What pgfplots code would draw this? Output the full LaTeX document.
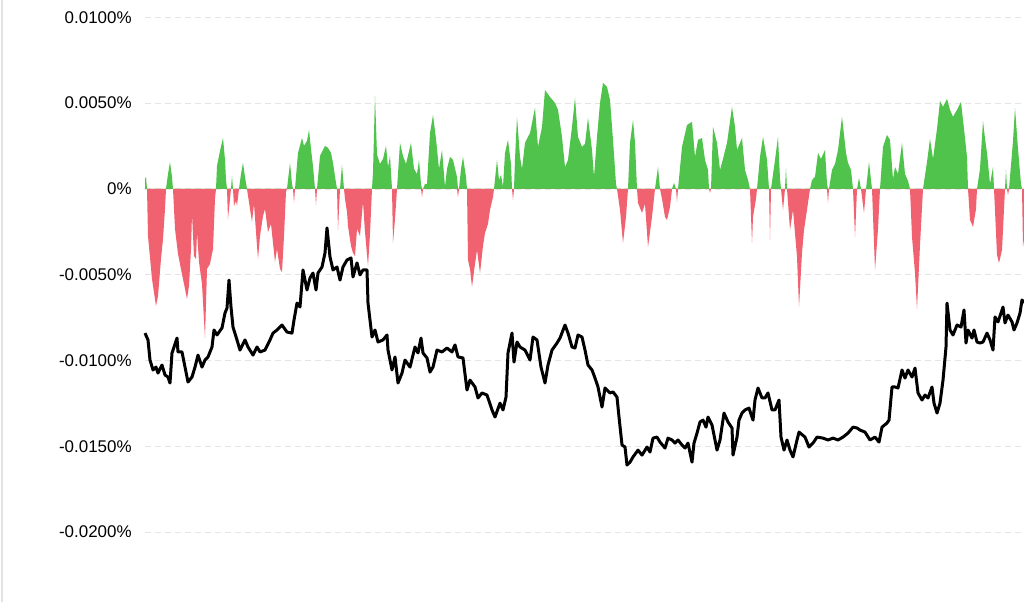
\documentclass[border=0pt]{standalone}
\usepackage{pgfplots}
\pgfplotsset{compat=1.18}
\usepackage{pgfplotstable}
\usepackage{fontspec}
\setmainfont{Liberation Sans}
\definecolor{upgreen}{RGB}{80,195,76}
\definecolor{downred}{RGB}{240,98,112}
\definecolor{gridc}{RGB}{228,228,228}

% funding rate, units of 0.0001% : x, positive part, negative part
\pgfplotstableread{
x g r
145 5.8 0
146 7.0 0
147 0 0
148 0 -27.4
152 0 -52.5
156 0 -68.2
158 0 -62.4
161 0 -40.8
163 0 -29.2
165 0 -11.7
166 0 0
168 8.7 0
170 15.7 0
172 7.0 0
173 0 0
175 0 -23.3
178 0 -37.9
182 0 -49.6
185 0 -58.3
187 0 -64.1
189 0 -56.6
191 0 -35.0
192 0 -14.6
194 0 -39.1
196 0 -40.8
197 0 -25.1
199 0 -42.6
202 0 -55.4
205 0 -86.9
207 0 -46.6
210 0 -43.7
213 0 -35.0
215 0 -5.8
216 0 0
217 13.4 0
220 22.2 0
223 29.7 0
225 16.9 0
226 5.2 0
227 0 0
228 0 -17.5
230 0 -5.8
231 0 0
232 7.6 0
233 0 0
234 0 -9.9
236 0 -7.0
237 0 -9.9
239 0 0
241 8.7 0
243 15.2 0
245 7.0 0
247 0 0
250 0 -11.7
252 0 -19.2
254 0 -8.7
257 0 -33.2
258 0 -40.8
260 0 -27.4
263 0 -15.7
265 0 -11.7
268 0 -25.1
271 0 -20.4
275 0 -42.6
277 0 -35.0
280 0 -46.6
282 0 -48.4
284 0 -27.4
286 0 -1.7
287 0 0
290 15.2 0
292 2.9 0
293 0 0
294 0 -8.2
295 0 0
298 21.0 0
302 29.7 0
304 25.1 0
307 28.0 0
309 34.4 0
311 23.3 0
313 13.4 0
315 0 0
316 0 -9.3
317 0 0
320 19.2 0
323 22.7 0
325 25.1 0
328 23.9 0
331 21.0 0
333 15.2 0
336 3.5 0
337 0 0
338 0 -23.9
340 0 0
342 14.0 0
344 0 0
345 0 -5.8
347 0 -13.4
348 0 -21.6
351 0 -33.2
353 0 -37.3
355 0 -39.1
357 0 -23.3
360 0 -27.4
363 0 -7.6
365 0 -25.1
368 0 -44.9
370 0 -26.2
372 0 0
373 10.0 0
375 54.2 0
377 20.0 0
380 14.6 0
383 17.5 0
386 25.1 0
388 12.8 0
390 19.2 0
392 0 0
393 0 -31.5
395 0 -17.5
397 0 0
400 26.8 0
403 19.2 0
406 14.6 0
411 26.8 0
414 11.7 0
417 8.7 0
419 16.9 0
421 2.9 0
422 0 -4.7
423 0 0
425 2.9 0
427 2.9 0
430 32.6 0
433 43.1 0
436 29.2 0
439 11.7 0
442 22.7 0
445 1.2 0
447 11.7 0
450 18.7 0
453 16.9 0
457 7.0 0
458 0 -4.7
459 0 0
461 11.7 0
463 18.7 0
466 7.0 0
467 0 0
468 0 -41.4
470 0 -46.6
472 0 -57.1
475 0 -43.7
477 0 -35.6
480 0 -49.0
483 0 -33.2
485 0 -25.7
488 0 -20.4
490 0 -12.2
493 0 -4.7
494 0 0
497 16.9 0
499 5.2 0
501 8.2 0
503 1.2 0
505 21.0 0
508 28.6 0
511 14.6 0
512 0 0
513 0 -6.4
514 0 0
515 17.5 0
517 42.0 0
520 18.7 0
522 11.7 0
525 26.8 0
530 32.6 0
535 47.2 0
538 24.5 0
542 36.1 0
545 57.7 0
547 56.0 0
550 53.6 0
555 50.1 0
558 46.1 0
562 30.3 0
565 12.8 0
568 16.9 0
572 36.1 0
575 53.1 0
578 30.3 0
582 24.5 0
585 26.2 0
588 41.4 0
592 22.7 0
594 7.0 0
597 30.3 0
600 50.1 0
603 61.8 0
605 60.6 0
607 59.5 0
610 51.9 0
613 28.6 0
616 2.9 0
617 0 0
620 0 -12.2
623 0 -31.5
626 0 -16.3
628 0 0
630 26.8 0
633 40.2 0
635 26.8 0
637 0 0
638 0 -8.2
642 0 -14.0
645 0 -8.7
648 0 -33.8
652 0 -16.3
655 0 0
658 12.8 0
660 0 0
662 0 -5.8
665 0 -16.3
667 0 -18.1
670 0 -10.5
672 0 0
674 3.5 0
676 0 0
677 0 -7.6
678 0 0
682 24.5 0
687 37.3 0
692 39.1 0
695 18.7 0
698 28.6 0
702 29.7 0
705 16.9 0
708 11.1 0
709 0 0
710 0 -2.3
711 0 0
713 36.1 0
717 26.8 0
720 11.1 0
723 17.5 0
727 26.8 0
732 47.8 0
735 36.1 0
737 22.7 0
742 29.7 0
745 11.1 0
748 5.2 0
750 0 0
752 0 -31.5
753 0 -16.3
756 0 -5.8
757 0 0
760 18.7 0
763 30.3 0
767 16.9 0
769 0 0
770 0 -29.7
771 0 0
775 16.9 0
778 30.3 0
780 5.8 0
781 0 0
783 0 -12.2
785 0 0
786 12.2 0
787 0 0
790 0 -23.9
793 0 -12.2
797 0 -39.6
799 0 -68.8
802 0 -37.3
804 0 -23.9
807 0 -12.2
810 0 0
812 5.2 0
815 7.0 0
818 21.0 0
821 17.5 0
825 22.7 0
827 2.9 0
828 0 -8.2
829 0 0
832 11.1 0
835 14.6 0
838 22.7 0
842 42.0 0
846 21.0 0
848 15.2 0
851 11.1 0
853 0 0
855 0 -28.0
857 0 0
859 6.4 0
861 0 0
864 0 -14.0
866 0 0
869 15.7 0
872 0 0
875 0 -47.2
878 0 -23.3
880 0 0
883 24.5 0
887 31.5 0
890 28.6 0
893 5.8 0
895 12.8 0
898 8.7 0
902 26.8 0
905 8.7 0
908 4.7 0
910 0 0
912 0 -28.0
915 0 -49.0
917 0 -70.0
920 0 -32.6
923 0 0
927 15.7 0
930 29.2 0
933 17.5 0
937 35.0 0
940 51.3 0
943 47.8 0
947 52.5 0
950 46.1 0
953 42.0 0
957 46.1 0
961 50.7 0
964 35.0 0
967 18.7 0
968 0 0
970 0 -18.1
973 0 -22.2
976 0 -11.7
977 0 0
980 11.7 0
983 39.6 0
985 29.2 0
987 21.0 0
990 2.9 0
993 12.8 0
994 0 0
997 0 -38.5
999 0 -43.1
1002 0 -35.6
1004 0 -11.7
1005 0 0
1006 11.1 0
1007 0 0
1008 0 -3.5
1009 0 0
1013 28.0 0
1015 47.2 0
1018 23.3 0
1021 2.9 0
1022 0 0
1023 0 -33.8
1024 0 -29.2
}\rates

% black line, units of 0.0001%
\pgfplotstableread{
x v
145 -84.0
148 -88.0
150 -99.7
153 -105.5
156 -103.8
158 -107.3
162 -102.6
165 -108.4
168 -109.6
170 -113.1
172 -95.6
177 -86.9
178 -95.0
182 -95.0
185 -103.8
188 -112.5
192 -109.6
195 -103.8
198 -96.8
202 -103.8
205 -99.7
208 -97.9
212 -92.1
214 -82.2
217 -85.1
222 -81.0
225 -72.3
227 -69.4
229 -53.1
231 -68.8
233 -80.5
237 -88.0
240 -93.9
245 -88.0
248 -92.1
253 -96.8
257 -92.1
260 -95.0
265 -93.9
270 -88.0
273 -84.0
277 -82.2
282 -79.3
287 -83.4
292 -84.0
294 -76.4
297 -66.5
300 -68.8
303 -47.2
307 -58.9
310 -51.9
313 -49.0
316 -58.9
318 -49.0
322 -45.5
325 -37.3
327 -22.7
330 -39.6
333 -47.2
337 -45.5
340 -53.1
343 -45.5
347 -41.4
351 -40.2
353 -51.3
357 -43.1
360 -50.1
363 -47.2
367 -47.2
368 -66.5
372 -86.3
375 -82.2
378 -89.2
383 -88.0
387 -85.1
388 -93.9
392 -105.5
395 -97.9
398 -113.1
402 -107.3
405 -99.7
410 -103.8
415 -92.1
418 -95.6
421 -86.9
423 -95.6
427 -98.5
430 -106.7
433 -103.8
437 -93.9
442 -95.0
447 -92.7
452 -95.0
455 -90.9
458 -97.9
463 -98.5
467 -117.2
470 -111.4
475 -115.4
478 -121.8
482 -118.9
487 -120.1
492 -128.8
495 -132.9
500 -124.8
503 -128.8
506 -121.3
508 -95.6
512 -84.0
514 -100.9
517 -89.2
520 -92.1
525 -93.9
530 -99.7
533 -86.3
537 -88.0
541 -103.8
545 -113.1
548 -102.6
552 -93.9
557 -89.8
560 -86.9
565 -79.3
568 -84.0
572 -92.1
575 -92.7
578 -85.1
582 -86.3
585 -93.9
588 -102.6
592 -105.5
595 -110.2
598 -115.4
602 -127.1
605 -116.0
610 -118.9
613 -118.3
617 -121.3
619 -132.9
622 -149.2
625 -150.4
627 -160.9
630 -159.2
633 -156.2
638 -152.2
642 -155.1
647 -150.4
650 -153.3
653 -145.2
657 -144.6
660 -147.5
665 -151.0
668 -145.2
672 -146.3
675 -148.1
678 -146.3
682 -149.2
685 -151.0
688 -148.1
692 -159.2
694 -148.1
697 -142.3
700 -135.8
703 -134.7
706 -138.8
708 -132.9
712 -137.6
715 -146.3
717 -152.2
720 -146.3
724 -130.6
728 -135.8
732 -139.3
733 -155.1
737 -144.6
739 -134.7
742 -130.6
745 -128.8
749 -127.7
753 -134.7
755 -123.0
758 -116.0
762 -121.8
765 -121.8
768 -118.9
772 -128.8
775 -128.8
779 -123.0
781 -144.6
784 -152.2
787 -146.3
790 -152.2
793 -156.2
797 -146.3
799 -141.7
805 -144.6
809 -150.4
813 -148.1
817 -144.6
823 -145.2
828 -146.3
833 -145.2
838 -146.3
843 -144.6
848 -142.3
853 -138.8
857 -139.3
860 -140.5
865 -141.7
870 -146.3
875 -144.6
879 -147.5
882 -138.8
887 -136.4
889 -134.7
892 -115.4
895 -115.4
898 -116.0
902 -105.5
905 -110.2
908 -105.5
912 -109.6
915 -104.4
918 -118.9
922 -123.0
925 -120.1
928 -121.8
932 -115.4
934 -124.8
937 -130.6
940 -124.8
943 -111.4
946 -92.1
947 -66.5
950 -82.2
953 -85.1
957 -79.3
961 -80.5
964 -70.5
966 -89.8
968 -82.2
972 -86.9
974 -82.2
977 -89.2
980 -89.8
983 -89.2
987 -84.0
990 -88.0
993 -93.9
995 -74.6
998 -77.5
1003 -68.8
1005 -78.1
1008 -73.5
1012 -77.5
1014 -82.2
1017 -78.1
1020 -72.3
1022 -64.7
1024 -66.5
}\cumline

\begin{document}
\begin{tikzpicture}
\useasboundingbox (0,0) rectangle (512bp,301bp);
\fill[white] (0,0) rectangle (512bp,301bp);
\draw[gray!22, line width=1.2bp] (1bp,0) -- (1bp,301bp);
\begin{axis}[
  at={(72.5bp,0bp)}, anchor=south west,
  scale only axis, width=439.5bp, height=301bp,
  xmin=145, xmax=1024, ymin=-240.7, ymax=110.1,
  axis line style={draw=none},
  xtick=\empty,
  ytick={-200,-150,-100,-50,0,50,100},
  yticklabels={-0.0200\%,-0.0150\%,-0.0100\%,-0.0050\%,0\%,0.0050\%,0.0100\%},
  major tick length=0pt,
  yticklabel style={anchor=east, inner sep=0pt, xshift=-6.5bp, font=\fontsize{8.5}{10}\selectfont, text=black},
  ymajorgrids,
  grid style={gridc, line width=0.6bp, dash pattern=on 3bp off 2bp},
  clip=false,
]
\addplot[draw=none, fill=upgreen] table[x=x, y=g] {\rates} \closedcycle;
\addplot[draw=none, fill=downred] table[x=x, y=r] {\rates} \closedcycle;
\addplot[black, line width=1.5bp, line join=round] table[x=x, y=v] {\cumline};
\end{axis}
\end{tikzpicture}
\end{document}
